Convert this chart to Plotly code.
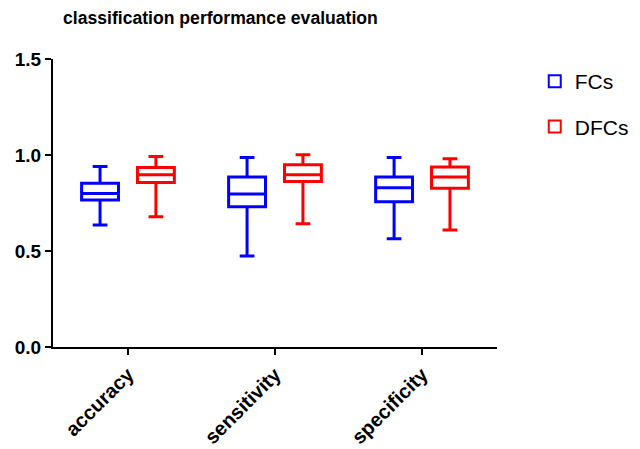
import plotly.graph_objects as go

categories = ["accuracy", "sensitivity", "specificity"]

fcs_low = [0.635, 0.474, 0.564]
fcs_q1 = [0.766, 0.731, 0.757]
fcs_med = [0.800, 0.797, 0.830]
fcs_q3 = [0.853, 0.885, 0.885]
fcs_high = [0.940, 0.987, 0.987]

dfcs_low = [0.679, 0.642, 0.609]
dfcs_q1 = [0.857, 0.862, 0.827]
dfcs_med = [0.897, 0.897, 0.885]
dfcs_q3 = [0.935, 0.949, 0.937]
dfcs_high = [0.992, 1.001, 0.980]

y_ticks = [0.0, 0.5, 1.0, 1.5]

FONT = "Liberation Sans, Arial, sans-serif"

fig = go.Figure()
fig.add_trace(go.Box(
    name="FCs", x=categories, legendgroup="a",
    q1=fcs_q1, median=fcs_med, q3=fcs_q3,
    lowerfence=fcs_low, upperfence=fcs_high,
    line=dict(color="#0000ff", width=3), fillcolor="rgba(0,0,0,0)",
    whiskerwidth=0.4, boxpoints=False, hoverinfo="skip",
))
fig.add_trace(go.Box(
    name="DFCs", x=categories, legendgroup="b",
    q1=dfcs_q1, median=dfcs_med, q3=dfcs_q3,
    lowerfence=dfcs_low, upperfence=dfcs_high,
    line=dict(color="#ff0000", width=3), fillcolor="rgba(0,0,0,0)",
    whiskerwidth=0.4, boxpoints=False, hoverinfo="skip",
))

# page body has an 8px margin, so the figure is 8px smaller and all offsets shifted by 8
fig.update_layout(
    width=632, height=441,
    margin=dict(l=45, r=143, t=51, b=102, autoexpand=False),
    paper_bgcolor="white", plot_bgcolor="white",
    boxmode="group", boxgap=0.24, boxgroupgap=0.34,
    font=dict(family=FONT, color="black"),
    title=dict(text="<b>classification performance evaluation</b>",
               x=55/632, xref="container", xanchor="left",
               y=1-10/441, yref="container", yanchor="middle",
               font=dict(size=17.6, family=FONT, color="black")),
    legend=dict(x=1.085, y=0.993, xanchor="left", yanchor="top",
                font=dict(size=21, family=FONT, color="black"),
                tracegroupgap=15, itemsizing="constant"),
    showlegend=True,
)
fig.update_xaxes(
    type="category", range=[-0.51, 2.51], automargin=False,
    showline=True, linecolor="black", linewidth=2,
    ticks="outside", ticklen=6, tickwidth=2, tickcolor="black",
    tickangle=-45, tickfont=dict(size=20, family=FONT, color="black", weight="bold"),
    showgrid=False, zeroline=False,
)
fig.update_yaxes(
    range=[0, 1.5], tickvals=y_ticks, tickformat=".1f", automargin=False,
    showline=True, linecolor="black", linewidth=2,
    ticks="outside", ticklen=6, tickwidth=2, tickcolor="black",
    tickfont=dict(size=19, family=FONT, color="black", weight="bold"),
    showgrid=False, zeroline=False,
)

fig.write_html("out.html")
